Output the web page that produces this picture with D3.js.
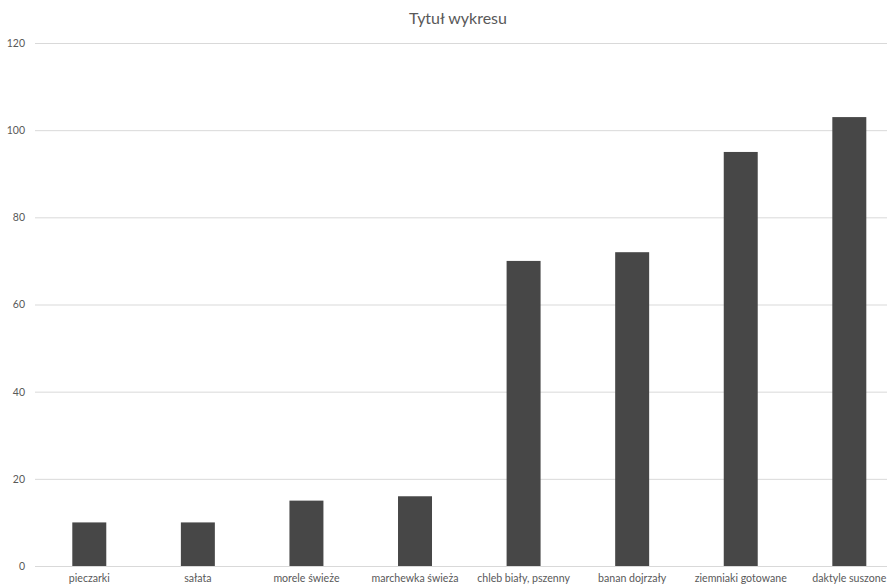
<!DOCTYPE html>
<html>
<head>
<meta charset="utf-8">
<script src="https://cdn.jsdelivr.net/npm/d3@7"></script>
<style>
html,body{margin:0;padding:0;background:#fff;overflow:hidden;}
svg{display:block;font-family:Lato,"Open Sans",sans-serif;}
</style>
</head>
<body>
<svg id="chart" width="887" height="586"></svg>
<script>
const categories = ["pieczarki","sałata","morele świeże","marchewka świeża","chleb biały, pszenny","banan dojrzały","ziemniaki gotowane","daktyle suszone"];
const values = [10,10,15,16,70,72,95,103];
const yTicks = [0,20,40,60,80,100,120];
const title = "Tytuł wykresu";

const svg = d3.select("#chart");
const margin = {left:35, top:43, bottom:20};
const plotW = 868.6;
const y = d3.scaleLinear().domain([0,120]).range([566,43]);
const x = d3.scaleBand().domain(categories).range([margin.left, margin.left+plotW]).paddingInner(0.687).paddingOuter(0.3435);

svg.append("text").attr("x",458).attr("y",24).attr("text-anchor","middle")
  .attr("font-size",16).attr("fill","#595959").text(title);

const yAxis = d3.axisLeft(y).tickValues(yTicks).tickSize(-(887-margin.left)).tickPadding(10);
const gy = svg.append("g").attr("transform",`translate(${margin.left},0)`).call(yAxis);
gy.select(".domain").remove();
gy.selectAll(".tick line").attr("stroke","#d9d9d9").attr("stroke-width",1);
gy.selectAll(".tick text").attr("fill","#595959").attr("font-size",10.5).attr("font-family","Lato,'Open Sans',sans-serif");

svg.append("g").selectAll("rect").data(values).join("rect")
  .attr("x",(d,i)=>x(categories[i]))
  .attr("y",d=>y(d))
  .attr("width",x.bandwidth())
  .attr("height",d=>y(0)-y(d))
  .attr("fill","#474747");

const xAxis = d3.axisBottom(x).tickSize(0).tickPadding(8);
const gx = svg.append("g").attr("transform",`translate(0,566)`).call(xAxis);
gx.select(".domain").attr("stroke","#d9d9d9");
gx.selectAll(".tick text").attr("fill","#595959").attr("font-size",10.6).attr("font-family","Lato,'Open Sans',sans-serif");
</script>
</body>
</html>
